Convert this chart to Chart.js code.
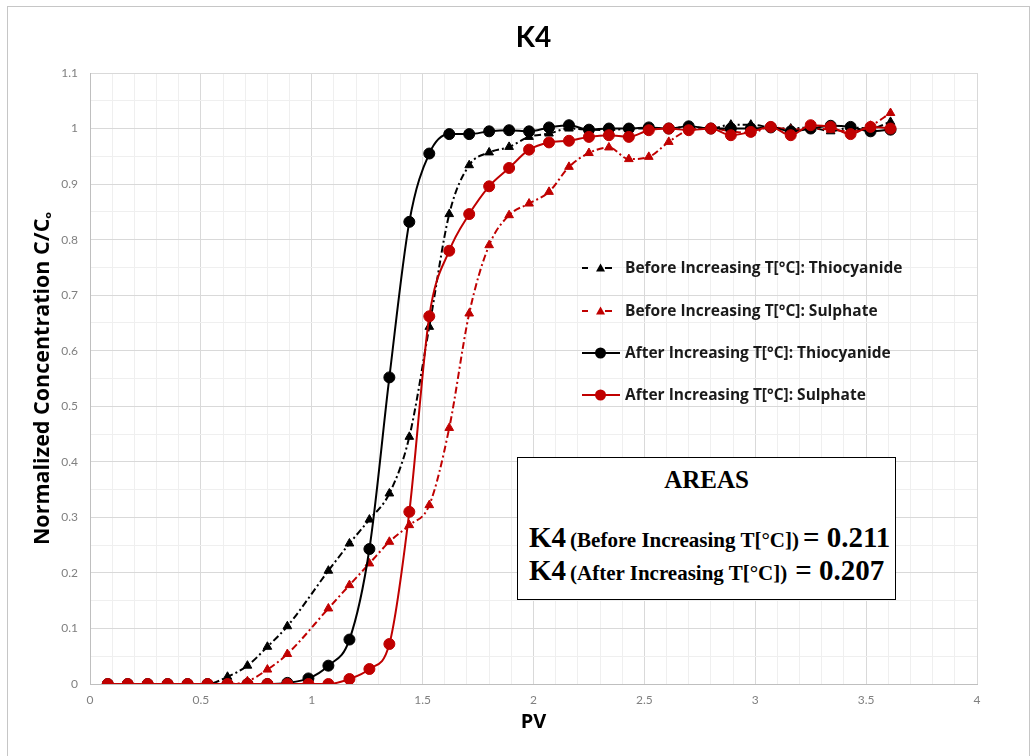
<!DOCTYPE html>
<html>
<head>
<meta charset="utf-8">
<script src="https://cdn.jsdelivr.net/npm/chart.js@4.4.0/dist/chart.umd.min.js"></script>
<style>
  html, body { margin: 0; padding: 0; background: #fff; }
  #wrap { position: relative; width: 1036px; height: 756px; overflow: hidden; }
  #frame { position: absolute; left: 7px; top: 6px; width: 1021px; height: 800px;
           border: 1px solid #c6c6c6; pointer-events: none; }
  #areas { position: absolute; left: 517px; top: 457px; width: 377px; height: 141px;
           border: 1.5px solid #000; background: #fff; color: #000;
           font-family: "Liberation Serif", "Times New Roman", serif; font-weight: bold; }
  #areas .head { position: absolute; left: 0; right: 0; top: 8px; text-align: center; font-size: 25px; }
  #areas .row { position: absolute; left: 11px; white-space: nowrap; }
  #areas .big { font-size: 29px; }
  #areas .small { font-size: 21px; }
</style>
</head>
<body>
<div id="wrap">
  <canvas id="chart" width="1036" height="756"></canvas>
  <div id="frame"></div>
  <div id="areas">
    <div class="head">AREAS</div>
    <div class="row" style="top:63px"><span class="big">K4</span> <span class="small">(Before Increasing T[°C])</span> <span class="big">= 0.211</span></div>
    <div class="row" style="top:96px"><span class="big">K4</span> <span class="small">(After Increasing T[°C])</span>&nbsp; <span class="big">= 0.207</span></div>
  </div>
</div>
<script>
// ── Data ────────────────────────────────────────────────────────────────
const TITLE   = 'K4';
const X_TITLE = 'PV';
const Y_TITLE = 'Normalized Concentration C/Cₒ';

const seriesNames = [
  'Before Increasing T[°C]: Thiocyanide',
  'Before Increasing T[°C]: Sulphate',
  'After Increasing T[°C]: Thiocyanide',
  'After Increasing T[°C]: Sulphate',
];

// pore volumes (x)
const pv = [0.08, 0.17, 0.26, 0.35, 0.44, 0.53, 0.62, 0.71, 0.80, 0.89,
            0.985, 1.075, 1.17, 1.26, 1.35, 1.44, 1.53, 1.62, 1.71, 1.80,
            1.89, 1.98, 2.07, 2.16, 2.25, 2.34, 2.43, 2.52, 2.61, 2.70,
            2.80, 2.89, 2.98, 3.07, 3.16, 3.25, 3.34, 3.43, 3.52, 3.61];

// null = no sample at that pore volume
const beforeThio = [0, 0, 0, 0, 0, 0, 0.013, 0.033, 0.067, 0.104,
                    null, 0.204, 0.253, 0.296, 0.343, 0.445, 0.643, 0.846, 0.934, 0.957,
                    0.967, 0.985, 0.991, 1.0, 0.998, 0.997, 1.0, 1.0, 1.0, 1.003,
                    1.0, 1.007, 1.007, 1.002, 1.0, 1.002, 0.995, 1.002, 1.0, 1.012];
const beforeSulph = [0, 0, 0, 0, 0, 0, 0, 0.005, 0.026, 0.054,
                     null, 0.136, 0.178, 0.217, 0.256, 0.286, 0.322, 0.461, 0.667, 0.79,
                     0.844, 0.865, 0.886, 0.931, 0.956, 0.966, 0.945, 0.949, 0.976, 0.997,
                     1.0, 0.995, 0.992, 1.003, 0.998, 1.0, 0.998, 0.995, 1.005, 1.028];
const afterThio = [0, 0, 0, 0, 0, 0, 0, 0, 0, 0.002,
                   0.01, 0.033, 0.08, 0.243, 0.552, 0.832, 0.955, 0.99, 0.99, 0.995,
                   0.997, 0.995, 1.002, 1.006, 0.998, 1.0, 1.0, 1.002, 1.0, 1.004,
                   1.0, 1.0, 1.0, 1.002, 0.995, 1.0, 1.005, 1.003, 0.995, 0.998];
const afterSulph = [0, 0, 0, 0, 0, 0, 0, 0, 0, 0,
                    0, 0, 0.009, 0.027, 0.072, 0.31, 0.662, 0.78, 0.846, 0.896,
                    0.929, 0.962, 0.975, 0.978, 0.985, 0.988, 0.985, 0.997, 1.0, 0.997,
                    1.0, 0.988, 0.994, 1.003, 0.988, 1.006, 1.003, 0.99, 1.003, 1.0];

const xTickLabels = ['0', '0.5', '1', '1.5', '2', '2.5', '3', '3.5', '4'];
const yTickLabels = ['0', '0.1', '0.2', '0.3', '0.4', '0.5', '0.6', '0.7', '0.8', '0.9', '1', '1.1'];

// ── Styles ──────────────────────────────────────────────────────────────
const BLACK = '#000000';
const RED   = '#c00000';
const DASH_DOT = [7, 3, 2, 3];
const FONT = 'Lato, "Open Sans", "Noto Sans", sans-serif';
const WIDE = '"Open Sans", Lato, sans-serif';

function pts(ys) {
  return pv.map((x, i) => ({ x, y: ys[i] }));
}

const styles = [
  { color: BLACK, dash: DASH_DOT, point: 'triangle', r: 5,   order: 4 },
  { color: RED,   dash: DASH_DOT, point: 'triangle', r: 5,   order: 3 },
  { color: BLACK, dash: [],       point: 'circle',   r: 5.5, order: 2 },
  { color: RED,   dash: [],       point: 'circle',   r: 5.5, order: 1 },
];
const seriesValues = [beforeThio, beforeSulph, afterThio, afterSulph];

const datasets = seriesValues.map((ys, i) => ({
  label: seriesNames[i],
  data: pts(ys),
  borderColor: styles[i].color,
  backgroundColor: styles[i].color,
  borderWidth: 2,
  borderDash: styles[i].dash,
  pointStyle: styles[i].point,
  pointRadius: styles[i].r,
  pointBorderWidth: 1,
  cubicInterpolationMode: 'monotone',
  spanGaps: true,
  order: styles[i].order,
}));

function near(v, step) {
  return Math.abs(v / step - Math.round(v / step)) < 1e-6;
}

// ── Title + legend drawn inside the canvas ──────────────────────────────
const overlay = {
  id: 'overlay',
  afterDraw(chart) {
    const ctx = chart.ctx, a = chart.chartArea;
    ctx.save();
    ctx.fillStyle = '#000';
    ctx.textAlign = 'center';
    ctx.textBaseline = 'middle';
    ctx.font = 'bold 28px ' + FONT;
    ctx.fillText(TITLE, (a.left + a.right) / 2, 38);

    const rows = [268, 311, 353, 395];
    ctx.textAlign = 'left';
    ctx.font = 'bold 15.5px ' + WIDE;
    rows.forEach((y, i) => {
      const s = styles[i];
      ctx.strokeStyle = s.color;
      ctx.fillStyle = s.color;
      ctx.lineWidth = 2;
      ctx.setLineDash([]);
      ctx.beginPath();
      if (s.point === 'triangle') {
        ctx.moveTo(582, y); ctx.lineTo(588, y);
        ctx.moveTo(605, y); ctx.lineTo(612, y);
        ctx.stroke();
        ctx.beginPath();
        ctx.moveTo(600.5, y - 4.5);
        ctx.lineTo(605, y + 3.5);
        ctx.lineTo(596, y + 3.5);
        ctx.closePath();
        ctx.fill();
      } else {
        ctx.moveTo(582, y); ctx.lineTo(620, y);
        ctx.stroke();
        ctx.beginPath();
        ctx.arc(600.5, y, 5.5, 0, Math.PI * 2);
        ctx.fill();
      }
      ctx.fillStyle = '#1a1a1a';
      ctx.fillText(seriesNames[i], 625, y + 1);
    });
    ctx.restore();
  }
};

new Chart(document.getElementById('chart'), {
  type: 'line',
  data: { datasets },
  options: {
    responsive: false,
    animation: false,
    layout: { padding: { left: 0, right: 59, top: 73, bottom: 0 } },
    plugins: {
      legend: { display: false },
      title: { display: false },
      tooltip: { enabled: false },
    },
    scales: {
      x: {
        type: 'linear',
        min: 0,
        max: 4,
        afterFit: s => { s.height = 72; },
        border: { color: '#bfbfbf', width: 1 },
        grid: {
          drawTicks: false,
          color: c => near(c.tick.value, 0.5) ? '#d9d9d9' : '#efefef',
        },
        ticks: {
          stepSize: 0.1,
          autoSkip: false,
          maxRotation: 0,
          padding: 9,
          color: '#808080',
          font: { family: FONT, size: 12 },
          callback: v => {
            const k = Math.round(v / 0.5);
            return near(v, 0.5) && xTickLabels[k] !== undefined ? xTickLabels[k] : '';
          },
        },
        title: {
          display: true,
          text: X_TITLE,
          color: '#000',
          font: { family: WIDE, size: 20, weight: 'bold' },
          padding: { top: 0, bottom: 22 },
        },
      },
      y: {
        type: 'linear',
        min: 0,
        max: 1.1,
        afterFit: s => { s.width = 90; },
        border: { color: '#bfbfbf', width: 1 },
        grid: {
          drawTicks: false,
          color: c => near(c.tick.value, 0.1) ? '#d9d9d9' : '#efefef',
        },
        ticks: {
          stepSize: 0.05,
          autoSkip: false,
          padding: 12,
          color: '#808080',
          font: { family: FONT, size: 12 },
          callback: v => {
            const k = Math.round(v / 0.1);
            return near(v, 0.1) && yTickLabels[k] !== undefined ? yTickLabels[k] : '';
          },
        },
        title: {
          display: true,
          text: Y_TITLE,
          color: '#000',
          font: { family: WIDE, size: 21.5, weight: 'bold' },
          padding: { top: 30, bottom: 0 },
        },
      },
    },
  },
  plugins: [overlay],
});
</script>
</body>
</html>
